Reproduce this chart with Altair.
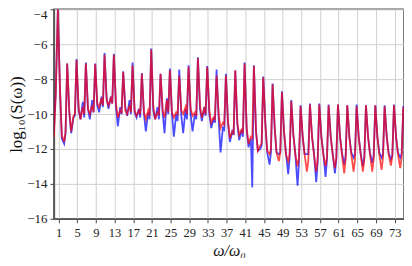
import altair as alt
import pandas as pd

# odd harmonics
harmonics = list(range(1, 75, 2))
# x-offsets of the key points around each harmonic: peak, fall, shoulder, trough, pre-rise
offsets = [-0.15, 0.3, 0.7, 1.2, 1.5]

red_peak = [-4.0, -7.1, -6.9, -7.1, -7.15, -6.6, -6.6, -7.6, -7.2, -7.7, -6.3, -7.7, -7.5, -7.8, -7.3, -6.8,
            -7.3, -7.8, -7.8, -7.5, -7.1, -7.25, -7.9, -8.3, -8.75, -9.25, -9.55, -9.45, -9.45, -9.5, -9.45,
            -9.5, -9.55, -9.5, -9.5, -9.55, -9.5]
red_a = [-8.5, -9.8, -9.6, -9.7, -9.4, -9.2, -9.4, -9.8, -9.8, -9.9, -9.6, -9.8, -9.9, -9.8, -9.7, -9.5,
         -9.8, -10.0, -10.4, -10.5, -10.8, -11.0, -10.6, -10.8, -11.0, -11.2, -11.3, -11.3, -11.3, -11.3,
         -11.3, -11.3, -11.3, -11.3, -11.3, -11.3, -11.3]
red_b = [-11.2, -11.0, -10.3, -10.0, -9.6, -9.5, -10.2, -10.0, -10.1, -10.3, -10.3, -10.2, -10.2, -10.0,
         -10.1, -10.2, -10.5, -10.8, -11.4, -11.2, -11.7, -12.1, -12.1, -12.2, -12.3, -12.3, -12.3, -12.3,
         -12.3, -12.3, -12.3, -12.3, -12.3, -12.3, -12.3, -12.3, -12.3]
red_c = [-11.6, -10.1, -9.6, -9.5, -9.1, -9.1, -9.8, -9.5, -9.8, -9.8, -9.9, -9.2, -9.9, -9.6, -9.9, -9.7,
         -10.2, -10.5, -11.0, -10.9, -11.3, -11.8, -12.3, -12.7, -12.7, -13.0, -13.3, -13.3, -13.0, -13.1,
         -13.4, -13.3, -13.3, -13.3, -13.2, -12.95, -13.1]
red_d = [-11.0, -10.0, -10.0, -9.9, -9.5, -9.4, -9.9, -9.9, -10.0, -10.1, -10.0, -9.9, -10.0, -10.0, -10.1,
         -10.0, -10.3, -10.6, -11.1, -11.1, -11.4, -11.7, -12.0, -12.2, -12.3, -12.5, -12.7, -12.6, -12.5,
         -12.5, -12.6, -12.6, -12.6, -12.6, -12.5, -12.4, -12.5]

blue_peak = [-4.0, -7.1, -6.85, -7.05, -7.1, -6.5, -6.55, -7.55, -7.05, -7.65, -6.25, -7.7, -7.4, -7.45, -7.2,
             -6.75, -7.25, -7.45, -7.7, -7.5, -7.05, -7.2, -7.85, -8.25, -8.7, -9.2, -9.5, -9.4, -9.4, -9.45,
             -9.45, -9.5, -9.45, -9.5, -9.5, -9.5, -9.45]
blue_a = [-8.5, -9.9, -9.8, -9.7, -9.5, -9.1, -9.6, -9.6, -9.9, -10.0, -9.8, -9.9, -10.0, -10.1, -10.0, -9.7,
          -10.0, -10.3, -10.5, -10.6, -10.9, -11.0, -10.5, -10.8, -11.0, -11.2, -11.3, -11.3, -11.3, -11.3,
          -11.3, -11.3, -11.3, -11.3, -11.3, -11.3, -11.3]
blue_b = [-11.4, -11.1, -10.3, -10.3, -9.9, -9.7, -10.7, -10.1, -10.2, -11.0, -10.3, -11.1, -11.3, -11.1,
          -11.0, -10.4, -10.8, -12.2, -11.6, -11.5, -11.9, -12.1, -12.2, -12.2, -12.2, -12.2, -12.3, -12.2,
          -12.2, -12.2, -12.2, -12.2, -12.2, -12.2, -12.2, -12.2, -12.2]
blue_c = [-11.7, -10.2, -9.3, -9.2, -9.0, -9.0, -9.6, -9.2, -9.7, -9.9, -9.6, -9.1, -10.0, -9.7, -10.0, -9.6,
          -10.3, -10.8, -11.0, -10.9, -11.4, -12.0, -12.9, -12.3, -13.45, -14.1, -12.3, -13.9, -13.6, -13.4,
          -12.9, -12.5, -13.0, -12.8, -12.5, -12.6, -12.5]
blue_d = [-11.1, -10.1, -10.2, -9.9, -9.6, -9.4, -10.0, -10.0, -10.2, -10.3, -10.3, -10.0, -10.4, -10.3,
          -10.3, -10.1, -10.5, -10.9, -11.2, -11.3, -14.2, -11.8, -12.2, -12.2, -12.5, -12.8, -12.3, -12.8,
          -12.6, -12.6, -12.4, -12.3, -12.5, -12.4, -12.3, -12.4, -12.3]

start_x = [0.0, 0.4]
red_start = [-11.3, -8.8]
blue_start = [-11.0, -8.8]
end_x = [74.85, 75.0]
red_end = [-9.6, -9.9]
blue_end = [-9.55, -9.9]

y_ticks = [-16, -14, -12, -10, -8, -6, -4]
x_ticks = list(range(1, 75, 4))


def build(name, start, cols, end):
    rows = []
    for x, y in zip(start_x, start):
        rows.append((x, y))
    for i, n in enumerate(harmonics):
        for off, col in zip(offsets, cols):
            rows.append((n + off, col[i]))
    for x, y in zip(end_x, end):
        rows.append((x, y))
    return pd.DataFrame({"x": [r[0] for r in rows], "y": [r[1] for r in rows],
                         "order": list(range(len(rows))), "series": name})


red_df = build("red", red_start, [red_peak, red_a, red_b, red_c, red_d], red_end)
blue_df = build("blue", blue_start, [blue_peak, blue_a, blue_b, blue_c, blue_d], blue_end)

FONT = "Liberation Serif"

xscale = alt.Scale(domain=[0, 75], nice=False, zero=False)
yscale = alt.Scale(domain=[-16, -4], nice=False, zero=False)

xaxis = alt.Axis(values=x_ticks, title="ω/ω₀", titleFontStyle="italic", titleFontWeight="normal",
                 titleFontSize=16, titleFont=FONT, titleColor="#111", titlePadding=3, labelFont=FONT,
                 labelFontSize=12.5, labelColor="#222", labelPadding=4, labelOverlap=False, labelFlush=False,
                 tickSize=4, tickColor="#444", domainColor="#555",
                 domainWidth=1.5, gridColor="#d0d0d0", gridWidth=1)
yaxis = alt.Axis(values=y_ticks, title="log₁₀(S(ω))", titleFontWeight="normal", titleFontSize=17,
                 titleFont=FONT, titleColor="#111", titleX=-37, titleY=105, titleBaseline="middle",
                 titleAlign="center", labelFont=FONT, labelFontSize=13,
                 labelColor="#222", labelPadding=3, labelOverlap=False, labelFlush=False,
                 tickSize=4, tickColor="#444", domainColor="#555",
                 domainWidth=1.5, gridColor="#d0d0d0", gridWidth=1,
                 labelOffset=alt.ConditionalAxisNumber(condition={"test": "datum.value == -4", "value": 5},
                                                       value=0))

blue = alt.Chart(blue_df).mark_line(color="#0000ff", strokeWidth=1.8, opacity=0.7, clip=True).encode(
    x=alt.X("x:Q", scale=xscale, axis=xaxis),
    y=alt.Y("y:Q", scale=yscale, axis=yaxis),
    order="order:Q",
)
red = alt.Chart(red_df).mark_line(color="#ff0000", strokeWidth=1.8, opacity=0.7, clip=True).encode(
    x=alt.X("x:Q", scale=xscale, axis=xaxis),
    y=alt.Y("y:Q", scale=yscale, axis=yaxis),
    order="order:Q",
)

chart = alt.layer(blue, red).properties(
    width=351, height=210,
    autosize=alt.AutoSizeParams(type="none"),
    padding={"left": 46, "top": 1, "right": 0, "bottom": 39},
    background="white",
).configure_view(stroke="#555", strokeWidth=1.5).configure_axis(labelOverlap=False)

chart.save("out.html", embed_options={"renderer": "svg", "actions": False})
